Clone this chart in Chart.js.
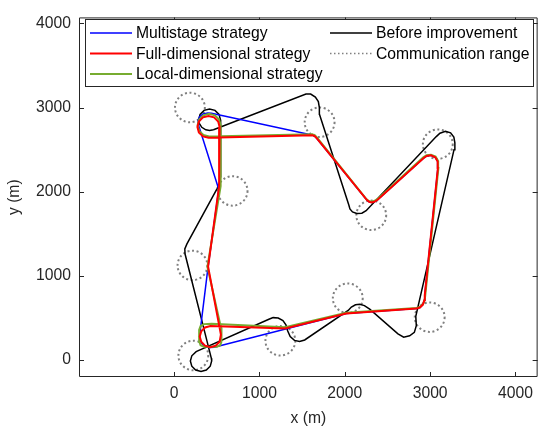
<!DOCTYPE html>
<html>
<head>
<meta charset="utf-8">
<script src="https://cdn.jsdelivr.net/npm/chart.js@4/dist/chart.umd.min.js"></script>
<style>
  html, body { margin: 0; padding: 0; background: #fff; }
  canvas { display: block; }
</style>
</head>
<body>
<canvas id="pathChart" width="540" height="430"></canvas>
<script>
// --- tick positions (m)
const xTicks = [0, 1000, 2000, 3000, 4000];
const yTicks = [0, 1000, 2000, 3000, 4000];

// --- trajectory: before improvement (closed loop, starts at the top-left turn)
const beforeX = [461, 415, 371, 324, 295, 287, 304, 351, 415, 479, 526, 543, 545, 530, 505, 150, 125, 128,
  436, 440, 423, 377, 315, 252, 207, 190, 207, 258,
  1110, 1160, 1220, 1275, 1310, 1330, 1360, 1410, 1470, 1530,
  2040, 2077, 2125, 2175, 2230, 2292, 2623, 2690, 2760, 2815, 2838, 2832,
  3280, 3290, 3278, 3240, 3180, 3115, 3072,
  2250, 2200, 2140, 2090, 2060, 2048, 1703, 1702, 1690, 1655, 1600, 1545, 461];
const beforeY = [2736, 2727, 2735, 2765, 2811, 2855, 2919, 2966, 2983, 2966, 2919, 2855, 2180, 2100, 2040, 1380, 1320, 1260,
  22, -10, -72, -118, -135, -118, -72, -10, 52, 101,
  485, 505, 500, 470, 420, 350, 280, 235, 222, 240,
  590, 630, 657, 663, 648, 605, 312, 273, 290, 330, 410, 520,
  2500, 2580, 2650, 2700, 2718, 2695, 2655,
  1775, 1745, 1742, 1760, 1795, 1840, 2920, 3000, 3070, 3125, 3160, 3160, 2736];

// --- trajectory: full-dimensional strategy
const fullX = [1628, 403, 338, 290, 273, 290, 338, 403, 468, 516, 533, 527, 398,
  548, 533, 487, 425, 362, 317, 300, 317, 362, 425, 1300, 2018,
  2838, 2880, 2915, 2932, 2937, 3091, 3088, 3060, 3010, 2960, 2925,
  2385, 2350, 2315, 2285, 2260, 1675, 1650, 1628];
const fullY = [2671, 2642, 2657, 2705, 2770, 2835, 2883, 2900, 2883, 2835, 2770, 2067, 1111,
  303, 218, 172, 155, 172, 218, 280, 342, 388, 405, 375, 553,
  612, 625, 660, 710, 770, 2281, 2360, 2410, 2432, 2425, 2400,
  1905, 1883, 1872, 1880, 1900, 2630, 2658, 2671];

// --- trajectory: local-dimensional strategy
const localX = [1628, 410, 343, 293, 275, 293, 343, 410, 478, 527, 545, 545, 390,
  540, 553, 555, 540, 500, 350, 310, 295, 293, 310, 350, 440, 1300, 2018,
  2838, 2880, 2918, 2937, 2943, 3097, 3094, 3064, 3010, 2958, 2920,
  2385, 2350, 2315, 2282, 2255, 1675, 1650, 1628];
const localY = [2682, 2655, 2673, 2723, 2790, 2858, 2907, 2925, 2907, 2858, 2790, 2067, 1111,
  425, 385, 220, 178, 158, 158, 178, 220, 360, 405, 428, 432, 390, 562,
  620, 633, 668, 718, 770, 2281, 2365, 2418, 2440, 2433, 2408,
  1915, 1893, 1882, 1890, 1910, 2642, 2670, 2682];

// --- trajectory: multistage strategy
const multiX = [1628, 438, 395, 340, 300, 282, 285, 293, 523, 398, 301, 300, 320, 360, 420, 470, 515, 2018,
  2838, 2880, 2915, 2932, 2937, 3091, 3088, 3060, 3010, 2960, 2925,
  2385, 2350, 2315, 2285, 2260, 1675, 1650, 1628];
const multiY = [2671, 2933, 2935, 2925, 2895, 2850, 2800, 2769, 2028, 1111, 312, 260, 205, 168, 150, 152, 164, 553,
  612, 625, 660, 710, 770, 2281, 2360, 2410, 2432, 2425, 2400,
  1905, 1883, 1872, 1880, 1900, 2630, 2658, 2671];

// --- communication range circles (centre, radius in m)
const rangeX = [185, 1705, 685, 3090, 2310, 215, 2035, 1245, 225, 2995];
const rangeY = [3000, 2825, 2010, 2565, 1720, 1125, 735, 230, 55, 510];
const rangeR = 175;

const FONT = "'Liberation Sans', Arial, Helvetica, sans-serif";
const FONT_SIZE = 15.7;
const AXIS_COLOR = '#262626';

function pts(xs, ys) {
  return xs.map((x, i) => ({ x: x, y: ys[i] }));
}

const datasets = [
  { label: 'Full-dimensional strategy', data: pts(fullX, fullY), borderColor: '#ff0000', borderWidth: 2, order: 0 },
  { label: 'Local-dimensional strategy', data: pts(localX, localY), borderColor: '#77ac30', borderWidth: 2, order: 1 },
  { label: 'Multistage strategy', data: pts(multiX, multiY), borderColor: '#0000ff', borderWidth: 1.5, order: 2 },
  { label: 'Before improvement', data: pts(beforeX, beforeY), borderColor: '#000000', borderWidth: 1.5, order: 3 }
].map(d => Object.assign(d, { showLine: true, pointRadius: 0, tension: 0, fill: false }));

// dotted circles under the trajectories
const rangePlugin = {
  id: 'rangeCircles',
  beforeDatasetsDraw(chart) {
    const { ctx, scales: { x, y }, chartArea } = chart;
    ctx.save();
    ctx.beginPath();
    ctx.rect(chartArea.left, chartArea.top, chartArea.right - chartArea.left, chartArea.bottom - chartArea.top);
    ctx.clip();
    ctx.strokeStyle = '#808080';
    ctx.lineWidth = 2;
    ctx.setLineDash([2, 2.6]);
    rangeX.forEach((cx, i) => {
      const px = x.getPixelForValue(cx);
      const py = y.getPixelForValue(rangeY[i]);
      const rx = x.getPixelForValue(cx + rangeR) - px;
      const ry = py - y.getPixelForValue(rangeY[i] + rangeR);
      ctx.beginPath();
      ctx.ellipse(px, py, rx, ry, 0, 0, Math.PI * 2);
      ctx.stroke();
    });
    ctx.restore();
  }
};

// axes box with inward ticks on all four sides
const boxPlugin = {
  id: 'axesBox',
  afterDatasetsDraw(chart) {
    const { ctx, scales: { x, y }, chartArea: a } = chart;
    ctx.save();
    ctx.strokeStyle = AXIS_COLOR;
    ctx.lineWidth = 1;
    ctx.beginPath();
    ctx.rect(a.left + 0.5, a.top + 0.5, a.right - a.left - 1, a.bottom - a.top - 1);
    xTicks.forEach(v => {
      const px = Math.round(x.getPixelForValue(v)) + 0.5;
      ctx.moveTo(px, a.bottom); ctx.lineTo(px, a.bottom - 5);
      ctx.moveTo(px, a.top); ctx.lineTo(px, a.top + 5);
    });
    yTicks.forEach(v => {
      const py = Math.round(y.getPixelForValue(v)) + 0.5;
      ctx.moveTo(a.left, py); ctx.lineTo(a.left + 5, py);
      ctx.moveTo(a.right, py); ctx.lineTo(a.right - 5, py);
    });
    ctx.stroke();
    ctx.restore();
  }
};

// two-column legend box in the upper part of the axes
const legendPlugin = {
  id: 'boxLegend',
  afterDraw(chart) {
    const { ctx } = chart;
    const byLabel = {};
    chart.data.datasets.forEach(d => { byLabel[d.label] = d; });
    const items = [
      { label: 'Multistage strategy', col: 0, row: 0 },
      { label: 'Full-dimensional strategy', col: 0, row: 1 },
      { label: 'Local-dimensional strategy', col: 0, row: 2 },
      { label: 'Before improvement', col: 1, row: 0 },
      { label: 'Communication range', col: 1, row: 1, dotted: true }
    ];
    const box = { left: 85, top: 19, right: 533, bottom: 86 };
    const colX = [90, 330];
    const rowY = [33, 53.5, 74];
    ctx.save();
    ctx.fillStyle = '#ffffff';
    ctx.fillRect(box.left, box.top, box.right - box.left, box.bottom - box.top);
    ctx.strokeStyle = AXIS_COLOR;
    ctx.lineWidth = 1;
    ctx.strokeRect(box.left + 0.5, box.top + 0.5, box.right - box.left, box.bottom - box.top);
    ctx.font = FONT_SIZE + 'px ' + FONT;
    ctx.textBaseline = 'middle';
    items.forEach(it => {
      const x0 = colX[it.col];
      const yy = rowY[it.row];
      ctx.beginPath();
      if (it.dotted) {
        ctx.strokeStyle = '#808080';
        ctx.lineWidth = 1.5;
        ctx.setLineDash([1.5, 2.5]);
      } else {
        const d = byLabel[it.label];
        ctx.strokeStyle = d.borderColor;
        ctx.lineWidth = d.borderWidth;
        ctx.setLineDash([]);
      }
      ctx.moveTo(x0, yy);
      ctx.lineTo(x0 + 42, yy);
      ctx.stroke();
      ctx.setLineDash([]);
      ctx.fillStyle = '#000000';
      ctx.fillText(it.label, x0 + 46, yy + 1);
    });
    ctx.restore();
  }
};

new Chart(document.getElementById('pathChart'), {
  type: 'scatter',
  data: { datasets: datasets },
  plugins: [rangePlugin, boxPlugin, legendPlugin],
  options: {
    responsive: false,
    animation: false,
    devicePixelRatio: 1,
    layout: { padding: { top: 12, right: 2, left: 0, bottom: 0 } },
    plugins: { legend: { display: false }, tooltip: { enabled: false } },
    scales: {
      x: {
        type: 'linear',
        min: -1115,
        max: 4260,
        grid: { display: false, drawTicks: false },
        border: { display: false },
        afterBuildTicks: s => { s.ticks = xTicks.map(v => ({ value: v })); },
        afterFit: s => { s.height = 53; },
        ticks: {
          padding: 7,
          maxRotation: 0,
          autoSkip: false,
          color: AXIS_COLOR,
          font: { family: FONT, size: FONT_SIZE },
          callback: v => String(v)
        },
        title: {
          display: true,
          text: 'x (m)',
          color: AXIS_COLOR,
          font: { family: FONT, size: FONT_SIZE },
          padding: { top: 0, bottom: 2 }
        }
      },
      y: {
        type: 'linear',
        min: -200,
        max: 4070,
        grid: { display: false, drawTicks: false },
        border: { display: false },
        afterBuildTicks: s => { s.ticks = yTicks.map(v => ({ value: v })); },
        afterFit: s => { s.width = 79; },
        ticks: {
          padding: 8,
          autoSkip: false,
          color: AXIS_COLOR,
          font: { family: FONT, size: FONT_SIZE },
          callback: v => String(v)
        },
        title: {
          display: true,
          text: 'y (m)',
          color: AXIS_COLOR,
          font: { family: FONT, size: FONT_SIZE },
          padding: { top: 5, bottom: 0 }
        }
      }
    }
  }
});
</script>
</body>
</html>
